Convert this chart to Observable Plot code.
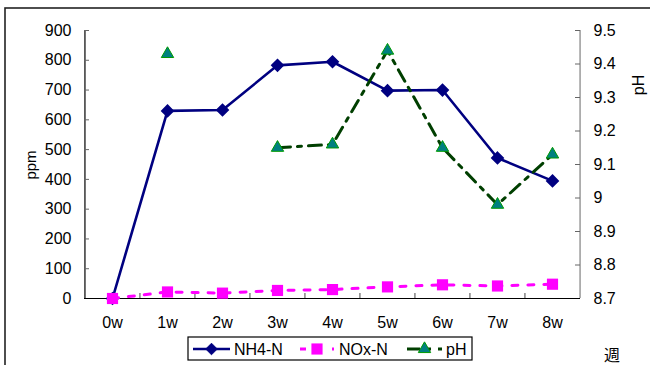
<!DOCTYPE html>
<html>
<head>
<meta charset="utf-8">
<script src="https://cdn.jsdelivr.net/npm/d3@7"></script>
<script src="https://cdn.jsdelivr.net/npm/@observablehq/plot@0.6"></script>
<style>
  html, body { margin: 0; padding: 0; background: #fff; }
  #chart { position: relative; width: 650px; height: 365px; overflow: hidden; }
  svg { font-family: "Liberation Sans", Arial, sans-serif; }
</style>
</head>
<body>
<div id="chart"></div>
<script>
// Weekly measurements: ammonium and NOx nitrogen (ppm) and pH
const weeks = ["0w", "1w", "2w", "3w", "4w", "5w", "6w", "7w", "8w"];
const nh4 = [0, 630, 633, 783, 795, 698, 700, 472, 395];
const nox = [0, 22, 18, 27, 30, 39, 46, 42, 48];
const ph = [null, 9.43, null, 9.15, 9.16, 9.44, 9.15, 8.98, 9.13];

const ppmTicks = [0, 100, 200, 300, 400, 500, 600, 700, 800, 900];
const phTicks = [8.7, 8.8, 8.9, 9.0, 9.1, 9.2, 9.3, 9.4, 9.5];
const seriesNames = ["NH4-N", "NOx-N", "pH"];

// pH is plotted against the secondary axis (8.7 – 9.5) mapped onto the ppm range
const phMin = 8.7, phMax = 9.5, ppmMax = 900;
const phToPpm = (v) => (v - phMin) / (phMax - phMin) * ppmMax;
const ppmToPh = (v) => phMin + v / ppmMax * (phMax - phMin);

const rows = weeks.map((w, i) => ({week: w, nh4: nh4[i], nox: nox[i], ph: ph[i]}));

const W = 650, H = 365;
const mL = 84, mR = 70, mT = 30, mB = 67;
const plotW = W - mL - mR, plotH = H - mT - mB;
const halfStep = plotW / weeks.length / 2;

const navy = "#000080", magenta = "#ff00ff", dkgreen = "#003f00", teal = "#008080", green = "#009a00";
const fontSize = 16;

const chart = Plot.plot({
  width: W,
  height: H,
  marginLeft: mL,
  marginRight: mR,
  marginTop: mT,
  marginBottom: mB,
  style: {fontSize: fontSize + "px", fontFamily: "'Liberation Sans', Arial, sans-serif", color: "#000", background: "transparent"},
  x: {type: "point", domain: weeks, padding: 0.5, label: null},
  y: {domain: [0, ppmMax], label: null},
  marks: [
    // left / right axis lines at the outer category edges
    Plot.tickX(["0w"], {x: d => d, dx: -halfStep, stroke: "#000", strokeWidth: 1.2}),
    Plot.tickX(["8w"], {x: d => d, dx: halfStep, stroke: "#808080", strokeWidth: 1.2}),
    // inward tick marks
    Plot.tickX(weeks.slice(1), {x: d => d, dx: -halfStep, insetTop: plotH - 5, stroke: "#444"}),
    Plot.tickY(ppmTicks, {y: d => d, insetRight: plotW - 5, stroke: "#666"}),
    Plot.tickY(phTicks.map(phToPpm), {y: d => d, insetLeft: plotW - 5, stroke: "#666"}),
    Plot.ruleY([0], {stroke: "#000", strokeWidth: 1.2}),
    // tick labels
    Plot.axisY(ppmTicks, {anchor: "left", tickSize: 0, tickPadding: 13, label: null, fontSize}),
    Plot.axisY(phTicks.map(phToPpm), {anchor: "right", tickSize: 0, tickPadding: 13, label: null, fontSize,
      tickFormat: v => String(+ppmToPh(v).toFixed(1))}),
    Plot.axisX({tickSize: 0, tickPadding: 18, label: null, fontSize}),
    // NH4-N
    Plot.line(rows, {x: "week", y: "nh4", stroke: navy, strokeWidth: 2.6}),
    Plot.dot(rows, {x: "week", y: "nh4", symbol: "diamond2", r: 5.2, fill: navy, stroke: navy}),
    // NOx-N
    Plot.line(rows, {x: "week", y: "nox", stroke: magenta, strokeWidth: 3, strokeDasharray: "6,10"}),
    Plot.dot(rows, {x: "week", y: "nox", symbol: "square", r: 6.3, fill: magenta, stroke: "none"}),
    // pH (gap at 2w)
    Plot.line(rows, {x: "week", y: d => d.ph == null ? NaN : phToPpm(d.ph), stroke: dkgreen, strokeWidth: 3, strokeDasharray: "13,7,4,7"}),
    Plot.dot(rows.filter(d => d.ph != null), {x: "week", y: d => phToPpm(d.ph), symbol: "triangle", r: 4.6, fill: teal, stroke: green, strokeWidth: 1})
  ]
});

const container = document.getElementById("chart");
container.appendChild(chart);

const svg = d3.select(chart);

// outer chart-area border
svg.insert("rect", ":first-child")
  .attr("x", 5).attr("y", 8).attr("width", 700).attr("height", 400)
  .attr("fill", "none").attr("stroke", "#222").attr("stroke-width", 1.6);

// axis titles
svg.append("text").attr("transform", "translate(36,165) rotate(-90)")
  .attr("text-anchor", "middle").attr("font-size", 15).text("ppm");
svg.append("text").attr("transform", "translate(638,85) rotate(-90)")
  .attr("text-anchor", "middle").attr("dy", "0.35em").attr("font-size", 16).text("pH");
svg.append("text").attr("x", 612).attr("y", 361).attr("text-anchor", "middle")
  .attr("font-size", 16).attr("font-family", "'Noto Sans CJK JP', sans-serif").text("週");

// legend
const lg = svg.append("g").attr("text-anchor", "start");
const ly = 349;
lg.append("rect").attr("x", 188).attr("y", 337).attr("width", 284).attr("height", 23)
  .attr("fill", "#fff").attr("stroke", "#000").attr("stroke-width", 1.2);

const items = [
  {name: seriesNames[0], x0: 193, x1: 230, tx: 234, stroke: navy, dash: null, sw: 2.6,
   sym: d3.symbolDiamond2, size: Math.PI * 5.2 * 5.2, fill: navy, sstroke: navy},
  {name: seriesNames[1], x0: 300, x1: 334, tx: 339, stroke: magenta, dash: "6,10", sw: 3,
   sym: d3.symbolSquare, size: Math.PI * 6.3 * 6.3, fill: magenta, sstroke: "none"},
  {name: seriesNames[2], x0: 407, x1: 442, tx: 446, stroke: dkgreen, dash: "13,7,4,7", sw: 3,
   sym: d3.symbolTriangle, size: Math.PI * 4.6 * 4.6, fill: teal, sstroke: green}
];
for (const it of items) {
  lg.append("line").attr("x1", it.x0).attr("x2", it.x1).attr("y1", ly).attr("y2", ly)
    .attr("stroke", it.stroke).attr("stroke-width", it.sw)
    .attr("stroke-dasharray", it.dash);
  lg.append("path").attr("d", d3.symbol(it.sym, it.size)())
    .attr("transform", `translate(${(it.x0 + it.x1) / 2},${ly})`)
    .attr("fill", it.fill).attr("stroke", it.sstroke);
  lg.append("text").attr("x", it.tx).attr("y", ly).attr("dy", "0.35em")
    .attr("font-size", fontSize).text(it.name);
}
</script>
</body>
</html>
